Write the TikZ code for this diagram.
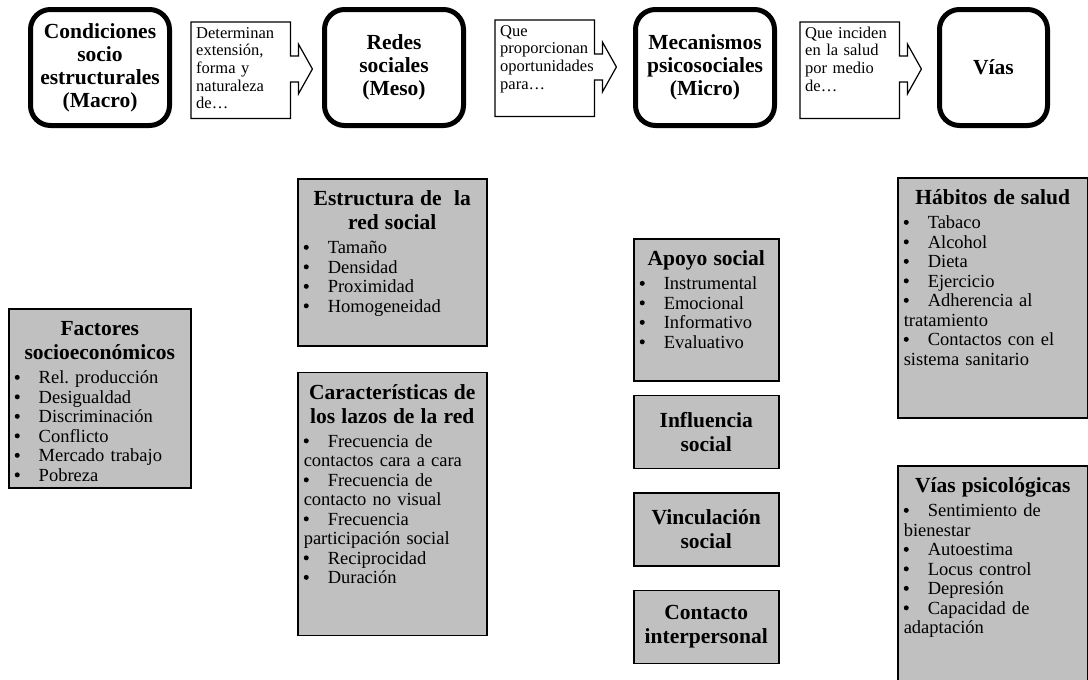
\documentclass[tikz,border=0pt]{standalone}
\usepackage{fontspec}
\setmainfont{Liberation Serif}
\usepackage{xcolor}
\usepackage{tikz}
\usetikzlibrary{positioning}
\definecolor{gris}{HTML}{C0C0C0}
\newcommand{\vineta}{\makebox[24pt][l]{\tikz[baseline=0pt]\fill (2.6pt,6.4pt) circle (2.5pt);}}
\newcommand{\titulo}[1]{{\centering\fontsize{21.5}{24}\selectfont\bfseries #1\par}\vspace{4.5pt}}
\hyphenpenalty=10000
\frenchspacing

\begin{document}
\begin{tikzpicture}[
    x=1pt, y=-1pt,
    nivel/.style={rectangle, draw, rounded corners=20pt, line width=5pt, minimum width=139pt, minimum height=116pt, align=center, anchor=north west, font=\fontsize{21.5}{23}\selectfont\bfseries},
    nota/.style={rectangle, fill=white, anchor=north west, text width=89pt, align=left, inner xsep=5pt, inner ysep=4pt, text height=12pt, text depth=76pt, font=\fontsize{16.5}{17.6}\selectfont},
    flecha/.style={draw, line width=1.2pt, line join=miter},
    lista/.style={rectangle, draw, fill=gris, line width=1.5pt, anchor=north west, align=left, inner xsep=6pt, inner ysep=5pt, text height=22pt, font=\fontsize{18.5}{19.5}\selectfont},
    caja/.style={rectangle, draw, fill=gris, line width=1.5pt, align=center, minimum width=145pt, minimum height=73pt, font=\fontsize{21.5}{24}\selectfont\bfseries}
]
    \useasboundingbox (0,0) rectangle (1088,680);

    % Levels
    \node[nivel] (macro) at (28,7) {Condiciones\\socio\\estructurales\\(Macro)};
    \node[nivel] (meso) at (322,7) {Redes\\sociales\\(Meso)};
    \node[nivel] (micro) at (633,7) {Mecanismos\\psicosociales\\(Micro)};
    \node[nivel, minimum width=108pt] (vias) at (937,7) {Vías};

    % Callouts
    \node[nota] (c1) at (191,22) {Determinan\\extensión,\\forma y\\naturaleza\\de…};
    \node[nota] (c2) at (495,20) {Que\\proporcionan\\oportunidades\\para…};
    \node[nota] (c3) at (800,22) {Que inciden\\en la salud\\por medio\\de…};
    \draw[flecha] (c1.north west) -- (c1.north east) -- ++(0,34) -- ++(8,0) -- ++(0,-12) -- ++(14,25) -- ++(-14,25) -- ++(0,-12) -- ++(-8,0) -- (c1.south east) -- (c1.south west) -- cycle;
    \draw[flecha] (c2.north west) -- (c2.north east) -- ++(0,34) -- ++(8,0) -- ++(0,-12) -- ++(14,25) -- ++(-14,25) -- ++(0,-12) -- ++(-8,0) -- (c2.south east) -- (c2.south west) -- cycle;
    \draw[flecha] (c3.north west) -- (c3.north east) -- ++(0,34) -- ++(8,0) -- ++(0,-12) -- ++(14,25) -- ++(-14,25) -- ++(0,-12) -- ++(-8,0) -- (c3.south east) -- (c3.south west) -- cycle;

    % Macro
    \node[lista, text width=170pt, text depth=147pt] (factores) at (8,308)
        {\titulo{Factores\\socioeconómicos}\vineta Rel. producción\\\vineta Desigualdad\\\vineta Discriminación\\\vineta Conflicto\\\vineta Mercado trabajo\\\vineta Pobreza};

    % Meso
    \node[lista, text width=177pt, text depth=135pt] (estructura) at (297,178)
        {\titulo{Estructura de\ \ la\\red social}\vineta Tamaño\\\vineta Densidad\\\vineta Proximidad\\\vineta Homogeneidad};
    \node[lista, text width=177pt, text depth=231pt, below=25pt of estructura] (lazos)
        {\titulo{Características de\\los lazos de la red}\vineta Frecuencia de\\contactos cara a cara\\\vineta Frecuencia de\\contacto no visual\\\vineta Frecuencia\\participación social\\\vineta Reciprocidad\\\vineta Duración};

    % Micro
    \node[lista, text width=133pt, text depth=110pt] (apoyo) at (633,238)
        {\titulo{Apoyo social}\vineta Instrumental\\\vineta Emocional\\\vineta Informativo\\\vineta Evaluativo};
    \node[caja, below=13pt of apoyo] (influencia) {Influencia\\social};
    \node[caja, below=23pt of influencia] (vinculacion) {Vinculación\\social};
    \node[caja, below=23pt of vinculacion] (contacto) {Contacto\\interpersonal};

    % Vias
    \node[lista, text width=178pt, text depth=208pt] (habitos) at (897,177)
        {\titulo{Hábitos de salud}\vineta Tabaco\\\vineta Alcohol\\\vineta Dieta\\\vineta Ejercicio\\\vineta Adherencia al\\tratamiento\\\vineta Contactos con el\\sistema sanitario};
    \node[lista, text width=178pt, text depth=186pt] (psico) at (897,465)
        {\titulo{Vías psicológicas}\vineta Sentimiento de\\bienestar\\\vineta Autoestima\\\vineta Locus control\\\vineta Depresión\\\vineta Capacidad de\\adaptación};
\end{tikzpicture}
\end{document}
